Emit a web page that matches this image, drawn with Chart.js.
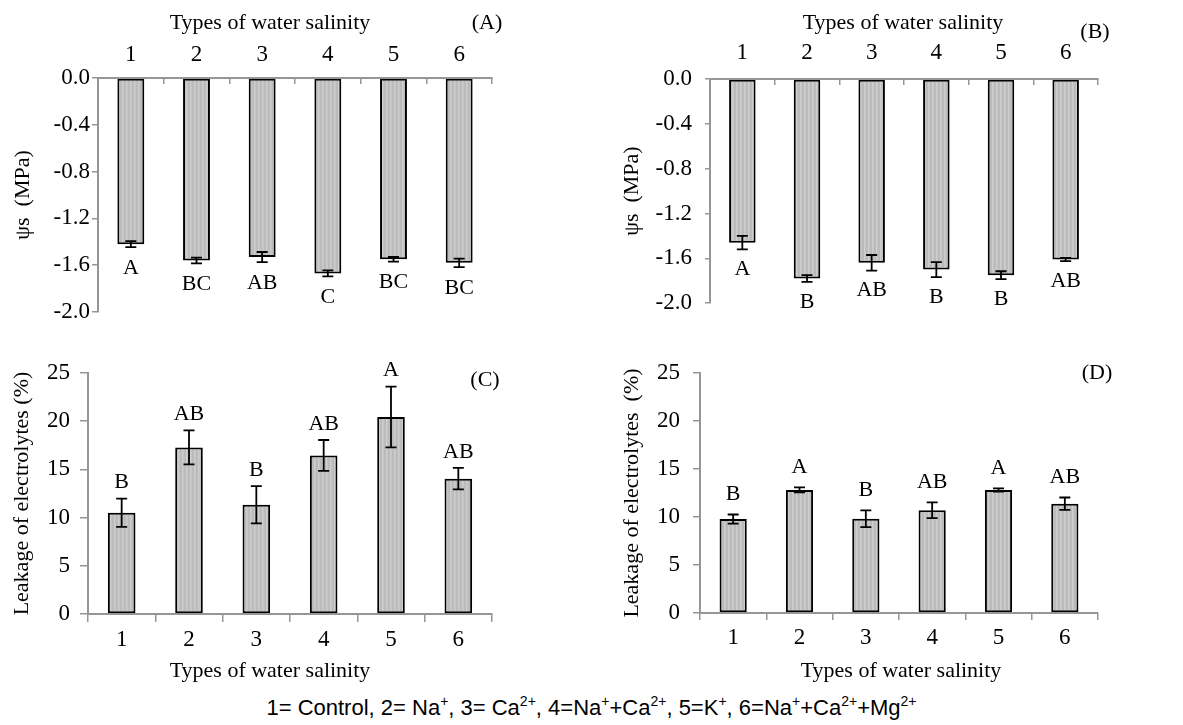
<!DOCTYPE html>
<html>
<head>
<meta charset="utf-8">
<script src="https://cdn.jsdelivr.net/npm/chart.js@4.4.1/dist/chart.umd.min.js"></script>
<style>
  body { margin: 0; background: #fff; width: 1183px; height: 725px; position: relative; overflow: hidden; }
  canvas { position: absolute; }
  #note {
    position: absolute; left: 0; width: 1183px; top: 695px; text-align: center;
    font: 22px 'Liberation Sans', Arial, sans-serif; color: #000; line-height: 26px;
  }
  #note sup { font-size: 14px; vertical-align: 9px; line-height: 0; }
</style>
</head>
<body>
<canvas id="chartA" width="590" height="330" style="left:0;top:0"></canvas>
<canvas id="chartB" width="593" height="330" style="left:590px;top:0"></canvas>
<canvas id="chartC" width="590" height="355" style="left:0;top:330px"></canvas>
<canvas id="chartD" width="593" height="355" style="left:590px;top:330px"></canvas>
<div id="note">1= Control, 2= Na<sup>+</sup>, 3= Ca<sup>2+</sup>, 4=Na<sup>+</sup>+Ca<sup>2+</sup>, 5=K<sup>+</sup>, 6=Na<sup>+</sup>+Ca<sup>2+</sup>+Mg<sup>2+</sup></div>

<script>
// categories (types of water salinity)
const categories = ["1", "2", "3", "4", "5", "6"];

// osmotic potential, MPa
const psTicks = [0, -0.4, -0.8, -1.2, -1.6, -2.0];
const psA = [-1.42, -1.56, -1.53, -1.67, -1.55, -1.58];
const psAErr = [0.025, 0.024, 0.043, 0.026, 0.02, 0.037];
const psALetters = ["A", "BC", "AB", "C", "BC", "BC"];
const psB = [-1.46, -1.78, -1.64, -1.70, -1.75, -1.61];
const psBErr = [0.06, 0.03, 0.07, 0.067, 0.035, 0.015];
const psBLetters = ["A", "B", "AB", "B", "B", "AB"];

// leakage of electrolytes, %
const leakTicks = [0, 5, 10, 15, 20, 25];
const leakC = [10.5, 17.28, 11.34, 16.45, 20.43, 14.04];
const leakCErr = [1.47, 1.76, 1.93, 1.6, 3.15, 1.12];
const leakCLetters = ["B", "AB", "B", "AB", "A", "AB"];
const leakD = [9.79, 12.82, 9.82, 10.7, 12.82, 11.39];
const leakDErr = [0.47, 0.26, 0.87, 0.82, 0.17, 0.64];
const leakDLetters = ["B", "A", "B", "AB", "A", "AB"];

const SERIF = "'Liberation Serif', 'Times New Roman', serif";
const AXIS_GRAY = "#969696";
const FONT = { family: SERIF, size: 22 };
const TICK_FONT = { family: SERIF, size: 23 };
const X_TITLE = "Types of water salinity";

function stripePattern() {
  const c = document.createElement("canvas");
  c.width = 4; c.height = 4;
  const g = c.getContext("2d");
  g.fillStyle = "#bbbbbb"; g.fillRect(0, 0, 4, 4);
  g.fillStyle = "#cecece"; g.fillRect(2, 0, 1, 4);
  g.fillStyle = "#c4c4c4"; g.fillRect(3, 0, 1, 4);
  return g.createPattern(c, "repeat");
}

// error bars, significance letters, x title and the panel tag
const errorBarPlugin = {
  id: "errorBars",
  afterDatasetsDraw(chart, args, opts) {
    const ctx = chart.ctx;
    const y = chart.scales.y;
    const meta = chart.getDatasetMeta(0);
    ctx.save();
    ctx.strokeStyle = "#000";
    ctx.lineWidth = 1.8;
    ctx.fillStyle = "#000";
    ctx.font = `${FONT.size}px ${SERIF}`;
    ctx.textAlign = "center";
    ctx.textBaseline = "middle";
    meta.data.forEach((bar, i) => {
      const v = opts.values[i], e = opts.errors[i];
      const top = y.getPixelForValue(v + e);
      const bot = y.getPixelForValue(v - e);
      ctx.beginPath();
      ctx.moveTo(bar.x, top); ctx.lineTo(bar.x, bot);
      ctx.moveTo(bar.x - 5.5, top); ctx.lineTo(bar.x + 5.5, top);
      ctx.moveTo(bar.x - 5.5, bot); ctx.lineTo(bar.x + 5.5, bot);
      ctx.stroke();
      const ly = v < 0 ? bot + opts.gap : top - opts.gap;
      ctx.fillText(opts.letters[i], bar.x, ly);
    });
    ctx.fillText(opts.panel, opts.panelX, opts.panelY);
    ctx.fillText(X_TITLE, opts.titleX, opts.titleY);
    ctx.restore();
  },
};

function makeChart(id, s) {
  const negative = s.values[0] < 0;
  new Chart(document.getElementById(id), {
    type: "bar",
    data: {
      labels: categories,
      datasets: [{
        data: s.values,
        backgroundColor: stripePattern(),
        borderColor: "#000",
        borderWidth: 2,
        borderSkipped: false,
        categoryPercentage: 1,
        barPercentage: 0.41,
      }],
    },
    options: {
      responsive: false,
      animation: false,
      events: [],
      layout: { padding: s.padding },
      plugins: {
        legend: { display: false },
        tooltip: { enabled: false },
        errorBars: {
          values: s.values, errors: s.errors, letters: s.letters, gap: s.gap,
          panel: s.panel, panelX: s.panelX, panelY: s.panelY,
          titleX: s.titleX, titleY: s.titleY,
        },
      },
      scales: {
        x: {
          position: negative ? "top" : "bottom",
          afterFit: (sc) => { sc.height = s.xHeight; },
          grid: { drawOnChartArea: false, offset: true, tickLength: s.xTick, color: AXIS_GRAY, lineWidth: 1.5 },
          border: { color: AXIS_GRAY, width: 2, z: 1 },
          ticks: { padding: s.xPad, font: TICK_FONT, color: "#000" },
        },
        y: {
          min: negative ? -2 : 0,
          max: negative ? 0 : 25,
          afterFit: (sc) => { sc.width = s.yWidth; },
          afterBuildTicks: (sc) => { sc.ticks = s.ticks.map((v) => ({ value: v })); },
          grid: { drawOnChartArea: false, tickLength: s.yTick, color: AXIS_GRAY, lineWidth: 1.5 },
          border: { color: AXIS_GRAY, width: 2, z: 1 },
          ticks: {
            padding: s.yPad, font: TICK_FONT, color: "#000",
            callback: (v) => (negative ? Number(v).toFixed(1) : String(v)),
          },
          title: {
            display: true, text: s.yTitle, font: FONT, color: "#000",
            padding: { top: s.yTitlePad, bottom: 0 },
          },
        },
      },
    },
    plugins: [errorBarPlugin],
  });
}

makeChart("chartA", {
  values: psA, errors: psAErr, letters: psALetters, ticks: psTicks, gap: 21,
  panel: "(A)", panelX: 487, panelY: 23, titleX: 270, titleY: 23,
  padding: { left: 0, top: 0, right: 98, bottom: 18 },
  xHeight: 78, xTick: -6, xPad: 15.2,
  yWidth: 98, yTick: 6, yPad: 2, yTitle: "\u03c8s  (MPa)", yTitlePad: 9.8,
});

makeChart("chartB", {
  values: psB, errors: psBErr, letters: psBLetters, ticks: psTicks, gap: 20,
  panel: "(B)", panelX: 505, panelY: 32, titleX: 313, titleY: 23,
  padding: { left: 0, top: 0, right: 85, bottom: 18 },
  xHeight: 79, xTick: -6, xPad: 18.2,
  yWidth: 120, yTick: 5, yPad: 13, yTitle: "\u03c8s  (MPa)", yTitlePad: 28.8,
});

makeChart("chartC", {
  values: leakC, errors: leakCErr, letters: leakCLetters, ticks: leakTicks, gap: 16,
  panel: "(C)", panelX: 485, panelY: 50, titleX: 270, titleY: 341,
  padding: { left: 0, top: 43, right: 98, bottom: 0 },
  xHeight: 71, xTick: 8, xPad: 4,
  yWidth: 88, yTick: 8, yPad: 10, yTitle: "Leakage of electrolytes (%)", yTitlePad: 8.8,
});

makeChart("chartD", {
  values: leakD, errors: leakDErr, letters: leakDLetters, ticks: leakTicks, gap: 20,
  panel: "(D)", panelX: 507, panelY: 43, titleX: 311, titleY: 341,
  padding: { left: 0, top: 43, right: 85, bottom: 0 },
  xHeight: 72, xTick: 7, xPad: 4.6,
  yWidth: 110, yTick: 7, yPad: 13, yTitle: "Leakage of electrolytes  (%)", yTitlePad: 28.8,
});
</script>
</body>
</html>
